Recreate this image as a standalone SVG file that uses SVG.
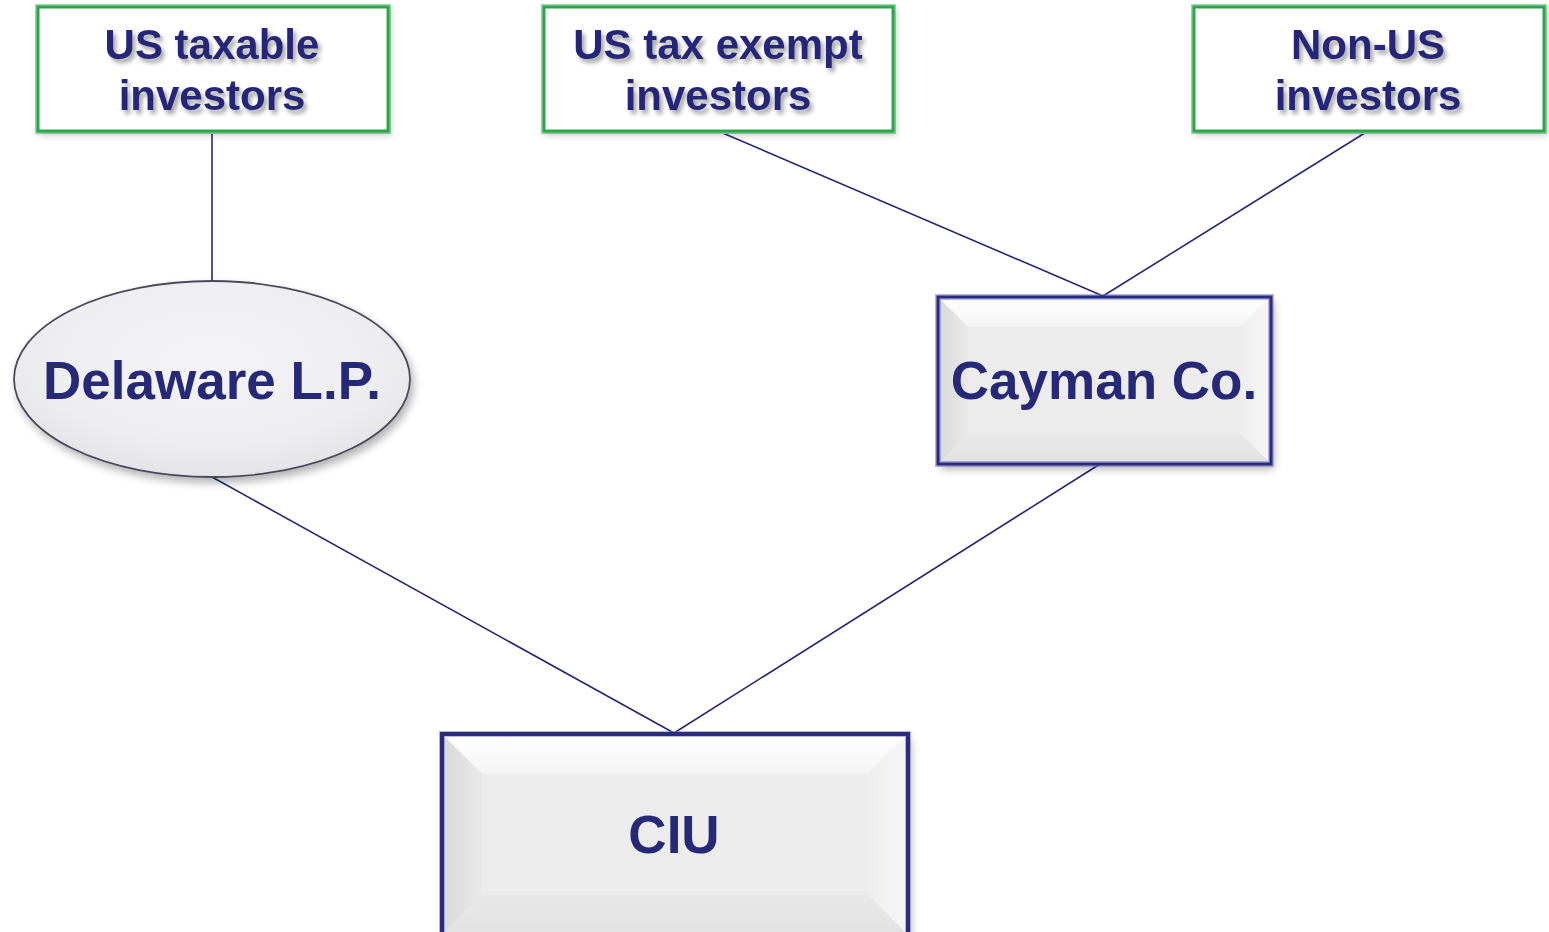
<svg xmlns="http://www.w3.org/2000/svg" width="1549" height="932" viewBox="0 0 1549 932">
  <defs>
    <filter id="txtShadow" x="-10%" y="-20%" width="130%" height="160%">
      <feGaussianBlur in="SourceAlpha" stdDeviation="2.2"/>
      <feOffset dx="3" dy="4" result="b"/>
      <feFlood flood-color="#000" flood-opacity="0.35"/>
      <feComposite in2="b" operator="in" result="s"/>
      <feMerge><feMergeNode in="s"/><feMergeNode in="SourceGraphic"/></feMerge>
    </filter>
    <filter id="boxShadow" x="-10%" y="-10%" width="125%" height="130%">
      <feDropShadow dx="3" dy="5" stdDeviation="4" flood-color="#000" flood-opacity="0.3"/>
    </filter>
    <filter id="softShadow" x="-10%" y="-10%" width="125%" height="130%">
      <feDropShadow dx="2" dy="3" stdDeviation="3" flood-color="#000" flood-opacity="0.2"/>
    </filter>
    <radialGradient id="ovalFill" cx="50%" cy="40%" r="60%">
      <stop offset="0" stop-color="#f4f4f6"/>
      <stop offset="0.7" stop-color="#eeeef0"/>
      <stop offset="1" stop-color="#e4e4e8"/>
    </radialGradient>
    <linearGradient id="bevTop" x1="0" y1="0" x2="0" y2="1">
      <stop offset="0" stop-color="#ffffff"/>
      <stop offset="1" stop-color="#f4f4f4"/>
    </linearGradient>
    <linearGradient id="bevLeft" x1="0" y1="0" x2="1" y2="0">
      <stop offset="0" stop-color="#d9d9d9"/>
      <stop offset="1" stop-color="#e9e9e9"/>
    </linearGradient>
    <linearGradient id="bevRight" x1="0" y1="0" x2="1" y2="0">
      <stop offset="0" stop-color="#eeeeee"/>
      <stop offset="1" stop-color="#f6f6f6"/>
    </linearGradient>
    <linearGradient id="bevBottom" x1="0" y1="0" x2="0" y2="1">
      <stop offset="0" stop-color="#e8e8e8"/>
      <stop offset="1" stop-color="#e2e2e2"/>
    </linearGradient>
  </defs>
  <style>
    .investor { fill: #ffffff; stroke: #2aa84a; stroke-width: 3; }
    .investor-glow { fill: none; stroke: #9fdcae; stroke-width: 6; }
    .lbl { font-family: "Liberation Sans", Arial, sans-serif; font-weight: bold; fill: #262878; text-anchor: middle; }
    .small { font-size: 42px; }
    .big { font-size: 53px; }
    .link { stroke: #262878; stroke-width: 1.6; fill: none; }
    .face { fill: #ececec; }
    .edge-out { fill: none; stroke: #7070cc; stroke-width: 6; }
    .edge-in { fill: none; stroke: #2c2c7c; stroke-width: 3; }
  </style>

  <!-- connectors -->
  <g id="connectors">
    <line class="link" x1="212" y1="131" x2="212" y2="282"/>
    <line class="link" x1="718" y1="131" x2="1103" y2="296"/>
    <line class="link" x1="1368" y1="131" x2="1103" y2="296"/>
    <line class="link" x1="212" y1="477" x2="674" y2="733"/>
    <line class="link" x1="1100" y1="464" x2="674" y2="733"/>
  </g>

  <!-- investor groups -->
  <g id="us-taxable">
    <rect class="investor-glow" x="38" y="7" width="350" height="124"/>
    <rect class="investor" x="38" y="7" width="350" height="124" filter="url(#softShadow)"/>
    <g filter="url(#txtShadow)">
      <text class="lbl small" x="212" y="59">US taxable</text>
      <text class="lbl small" x="212" y="110">investors</text>
    </g>
  </g>

  <g id="us-tax-exempt">
    <rect class="investor-glow" x="544" y="7" width="349" height="124"/>
    <rect class="investor" x="544" y="7" width="349" height="124" filter="url(#softShadow)"/>
    <g filter="url(#txtShadow)">
      <text class="lbl small" x="718" y="59">US tax exempt</text>
      <text class="lbl small" x="718" y="110">investors</text>
    </g>
  </g>

  <g id="non-us">
    <rect class="investor-glow" x="1194" y="7" width="350" height="124"/>
    <rect class="investor" x="1194" y="7" width="350" height="124" filter="url(#softShadow)"/>
    <g filter="url(#txtShadow)">
      <text class="lbl small" x="1368" y="59">Non-US</text>
      <text class="lbl small" x="1368" y="110">investors</text>
    </g>
  </g>

  <!-- Delaware feeder -->
  <g id="delaware-lp">
    <ellipse cx="212" cy="379" rx="198" ry="98" fill="url(#ovalFill)" stroke="#4a4a5a" stroke-width="1.8" filter="url(#boxShadow)"/>
    <text class="lbl big" x="212" y="399">Delaware L.P.</text>
  </g>

  <!-- Cayman feeder -->
  <g id="cayman-co">
    <g filter="url(#boxShadow)">
      <rect class="face" x="938" y="297" width="333" height="167"/>
    </g>
    <polygon points="938,297 1271,297 1241,327 968,327" fill="url(#bevTop)"/>
    <polygon points="938,297 968,327 968,434 938,464" fill="url(#bevLeft)"/>
    <polygon points="1271,297 1241,327 1241,434 1271,464" fill="url(#bevRight)"/>
    <polygon points="938,464 968,434 1241,434 1271,464" fill="url(#bevBottom)"/>
    <rect class="face" x="968" y="327" width="273" height="107"/>
    <rect class="edge-out" x="938" y="297" width="333" height="167" stroke-opacity="0.5"/>
    <rect class="edge-in" x="938" y="297" width="333" height="167"/>
    <text class="lbl big" x="1104" y="399">Cayman Co.</text>
  </g>

  <!-- master fund -->
  <g id="ciu">
    <g filter="url(#boxShadow)">
      <rect class="face" x="442" y="734" width="466" height="200"/>
    </g>
    <polygon points="442,734 908,734 868,774 482,774" fill="url(#bevTop)"/>
    <polygon points="442,734 482,774 482,895 442,935" fill="url(#bevLeft)"/>
    <polygon points="908,734 868,774 868,895 908,935" fill="url(#bevRight)"/>
    <polygon points="442,935 482,895 868,895 908,935" fill="url(#bevBottom)"/>
    <rect class="face" x="482" y="774" width="386" height="121"/>
    <rect class="edge-out" x="442" y="734" width="466" height="201" stroke-opacity="0.5"/>
    <rect x="442" y="734" width="466" height="201" fill="none" stroke="#2c2c7c" stroke-width="4"/>
    <text class="lbl big" x="674" y="853">CIU</text>
  </g>
</svg>
